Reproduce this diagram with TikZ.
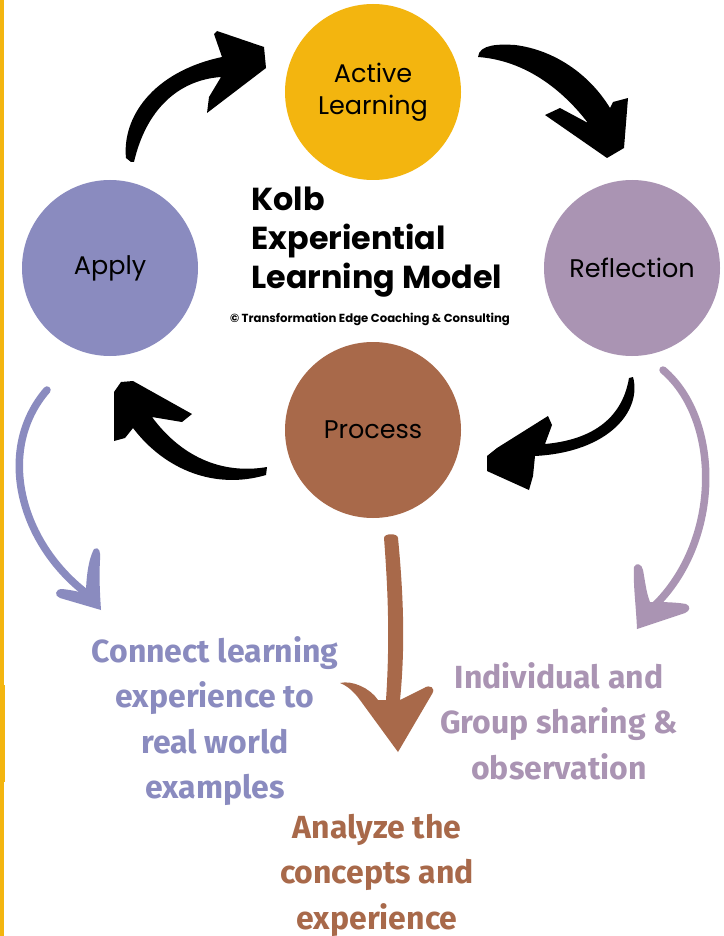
\documentclass[tikz,border=0pt]{standalone}
\usepackage{fontspec}
\setmainfont{Poppins}
\newfontfamily\notefont{Fira Sans}
\definecolor{kolbyellow}{HTML}{F3B50F}
\definecolor{kolbmauve}{HTML}{AA94B3}
\definecolor{kolbblue}{HTML}{8A8BBF}
\definecolor{kolbbrown}{HTML}{A8694A}
\begin{document}
\begin{tikzpicture}[x=1pt, y=-1pt,
            stage/.style={circle, minimum size=176pt, inner sep=0pt, align=center, font=\fontsize{25.5}{32}\selectfont},
            note/.style={align=center, font=\notefont\bfseries\fontsize{32}{45.6}\selectfont},
            swoosh/.style={fill=black},
            tail/.style={line width=7.5pt, line cap=round},
        ]
            \fill[white] (0,0) rectangle (723,936);
            \useasboundingbox (0,0) rectangle (723,936);
            \fill[kolbyellow] (0,0) rectangle (4,936);
            \fill[kolbyellow] (0,685) rectangle (5,782);

            \node[stage, fill=kolbyellow](active) at (373,92) {Active\\Learning};
            \node[stage, fill=kolbmauve](reflect) at (632,268) {Reflection};
            \node[stage, fill=kolbbrown](process) at (373,430) {Process};
            \node[stage, fill=kolbblue](apply) at (110,268) {Apply};

            \node[anchor=west, align=left, font=\bfseries\fontsize{31.8}{39}\selectfont](title) at (248,242) {Kolb\\Experiential\\Learning Model};
            \node[font=\bfseries\fontsize{11.7}{13}\selectfont](copy) at (370,319) {© Transformation Edge Coaching \& Consulting};

            \node[note, text=kolbblue](connect) at (215,721) {Connect learning\\experience to\\real world\\examples};
            \node[note, text=kolbmauve](share) at (559,721) {Individual and\\Group sharing \&\\observation};
            \node[note, text=kolbbrown](analyze) at (377,875) {Analyze the\\concepts and\\experience};

            \fill[swoosh] (131,162) -- (126,158) .. controls (122,118) and (152,72) .. (222,57) -- (214,34) -- (217,31) -- (264,47) -- (266,68) -- (207,113) -- (209,97) -- (221,77) .. controls (178,80) and (146,110) .. (134,162) -- cycle;
            \fill[swoosh] (478,57) .. controls (479,44) and (500,44) .. (515,45) .. controls (555,50) and (590,75) .. (610,108) -- (613,102) -- (628,98) -- (624,148) -- (607,158) -- (545,115) -- (560,108) -- (588,123) .. controls (558,84) and (520,60) .. (478,57) -- cycle;
            \fill[swoosh] (633,377) .. controls (642,410) and (610,452) .. (535,456) -- (533,476) -- (529,490) -- (487,471) -- (487,456) -- (497,448) -- (548,416) -- (552,425) -- (545,444) .. controls (590,440) and (622,420) .. (629,378) -- cycle;
            \fill[swoosh] (267,467) -- (266,475) .. controls (215,490) and (165,470) .. (133,428) -- (125,438) -- (114,441) -- (114,392) -- (121,382) -- (133,381) -- (192,414) -- (182,422) -- (152,417) .. controls (180,455) and (220,475) .. (267,467) -- cycle;

            \draw[tail, kolbblue] (47,390) .. controls (-5,450) and (20,545) .. (90,596);
            \fill[kolbblue] (101,610) -- (60,598) .. controls (54,596) and (55,589) .. (62,589) .. controls (72,590) and (80,592) .. (86,594) .. controls (86,580) and (88,560) .. (94,549) .. controls (99,546) and (101,552) .. (100,560) .. controls (99,578) and (100,595) .. (101,610) -- cycle;

            \draw[tail, kolbmauve] (663,370) .. controls (722,420) and (722,545) .. (650,610);
            \fill[kolbmauve] (637,629) .. controls (636,605) and (633,585) .. (634,567) .. controls (636,562) and (642,564) .. (643,570) .. controls (645,580) and (646,592) .. (650,602) .. controls (660,602) and (675,602) .. (686,604) .. controls (691,606) and (690,611) .. (685,613) -- cycle;

            \fill[kolbbrown] (384,538) .. controls (384,533) and (398,533) .. (398,538) .. controls (404,600) and (405,650) .. (400,700) -- (424,688) .. controls (430,684) and (436,688) .. (432,694) -- (398,752) -- (360,700) .. controls (355,693) and (348,686) .. (340,683) .. controls (352,680) and (370,688) .. (378,700) -- (386,700) .. controls (390,640) and (388,590) .. (384,538) -- cycle;
        \end{tikzpicture}
\end{document}
